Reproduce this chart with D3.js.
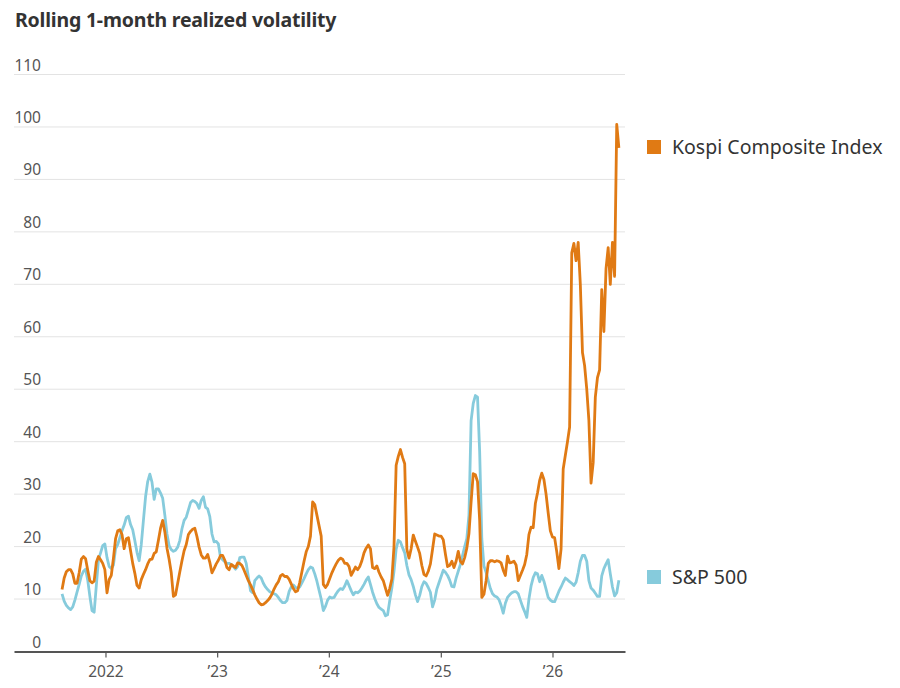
<!DOCTYPE html>
<html>
<head>
<meta charset="utf-8">
<script src="https://cdn.jsdelivr.net/npm/d3@7"></script>
<style>
  body { margin: 0; background: #fff; }
  svg { display: block; }
</style>
</head>
<body>
<div class="main"></div>
<script>
const width = 900;
const height = 688;
const margin = ({top: 74.5, right: 275, bottom: 36.5, left: 14});

// weekly observations, first one on 2021-08-12
const startDate = '2021-08-12';

const kospi = [
  11.8, 14, 15.2, 15.6, 15.6, 14.8, 13, 13, 15, 17.6,
  18.1, 17.7, 15.5, 13.5, 13.1, 13.4, 17, 18.1, 17.5, 16.8,
  15.6, 11.2, 13.7, 14.5, 17.8, 21.5, 23, 23.2, 22.3, 19.6,
  21.5, 21.7, 19.2, 16.8, 14.9, 12.6, 12.1, 13.7, 14.7, 15.6,
  16.7, 17.5, 17.6, 18.7, 19, 21.2, 23.5, 25, 22.8, 19.7,
  17.6, 15, 10.5, 10.8, 13, 15.2, 17.3, 19.2, 20.4, 22.3,
  22.9, 23.3, 23.5, 21.9, 19.9, 18.4, 17.8, 17.8, 18.5, 17,
  15, 15.8, 16.7, 17.4, 18.3, 18.3, 17.4, 16, 15.6, 16.6,
  16.3, 16, 16.9, 16.8, 16.4, 15.5, 14.5, 13.5, 12.7, 11.8,
  10.8, 10, 9.3, 8.9, 9, 9.3, 9.7, 10.2, 10.9, 11.9,
  12.7, 13.3, 14.4, 14.7, 14.3, 14.3, 13.8, 12.9, 12, 11.4,
  11.6, 13.2, 15.2, 17.2, 19, 20, 22, 28.5, 28, 26,
  24, 22, 12.8, 12.2, 12.8, 13.9, 15, 15.9, 16.7, 17.4,
  17.8, 17.6, 16.8, 16.8, 16.2, 14.5, 15.3, 16.1, 15.6, 16.2,
  17.3, 18.8, 19.7, 20.3, 19.6, 16, 15.8, 16.3, 15.1, 14.2,
  13.5, 12.1, 10.7, 12, 13.8, 20, 35.5, 37.2, 38.5, 37,
  35.8, 19.5, 17.8, 19.6, 22.2, 21, 19.9, 18.7, 16.4, 14.7,
  14.4, 15.3, 16.7, 19.5, 22.4, 22.2, 22, 22, 21.3, 18.6,
  16.2, 16.4, 17.2, 16, 17.2, 19.1, 17.2, 16.7, 17.9, 19.7,
  22.5, 28.5, 33.9, 33.7, 32.4, 25, 10.3, 10.9, 13.5, 16.8,
  17.3, 17.3, 17.1, 17.3, 17.2, 16.9, 15.5, 14.5, 18.2, 16.9,
  17, 17.2, 16.5, 13.5, 14.5, 15.5, 16.6, 18.5, 22.3, 23.7,
  23.6, 28.2, 30.2, 32.6, 34, 32.8, 30, 26.4, 23, 21.8,
  21.7, 19, 15.8, 19.5, 34.8, 37.4, 40, 42.8, 76, 77.8,
  74.5, 78, 70, 57, 54.5, 50, 44, 32.1, 36, 48.5,
  52.2, 53.7, 69, 61, 73, 77, 70, 78, 71.5, 100.5,
  96
];

const sp500 = [
  11, 9.6, 8.8, 8.3, 8, 8.5, 9.8, 11.3, 12.8, 14.4,
  15.3, 15.7, 13.6, 10.5, 7.8, 7.5, 12.5, 17.5, 18.8, 20.2,
  20.5, 17.9, 16.2, 15.8, 16.5, 19.6, 20.4, 21.7, 23, 24.1,
  25.5, 25.8, 24.2, 23.2, 21.1, 18.9, 17.3, 20.4, 25, 29.5,
  32.4, 33.8, 32.3, 29, 31, 31, 30.2, 29.2, 26, 22.4,
  20.2, 19.4, 19.1, 19.3, 19.9, 21.2, 23.4, 25, 25.6, 27,
  28.4, 28.8, 28.6, 28.2, 27.3, 28.8, 29.5, 27.5, 27.2, 25.7,
  22.4, 20.9, 21, 20.5, 17.9, 17.5, 17.1, 16.8, 16.8, 16.6,
  16.2, 15.7, 16.2, 17.9, 18, 18, 16.8, 14.2, 11.6, 11.2,
  13.5, 14, 14.4, 14, 13, 12.3, 11.8, 11.4, 11.2, 11,
  10.8, 10.3, 9.7, 9.3, 9.3, 9.7, 11.4, 12.3, 12.7, 12.2,
  12.1, 12.3, 13.1, 13.9, 14.8, 15.6, 16.1, 15.9, 14.8, 13.4,
  11.7, 10, 7.8, 8.6, 9.8, 10.4, 10.2, 10.3, 11, 11.6,
  12, 11.8, 12.5, 13.5, 12.6, 11.6, 10.8, 11.3, 11.2, 11.5,
  12.1, 12.8, 13.6, 14.2, 12.8, 11.3, 10.1, 9.1, 8.4, 8.1,
  7.8, 6.8, 7, 9.7, 12.1, 15.3, 19.5, 21.2, 20.9, 19.8,
  18.8, 16.4, 14.6, 13.7, 12.4, 10.8, 9.5, 10.7, 12.4, 13.3,
  13, 12.2, 11.3, 8.5, 9.8, 11.9, 13.1, 14.3, 15.5, 15.1,
  14.5, 13.6, 12.4, 12.3, 14, 15.3, 16.6, 18.3, 20, 21.5,
  26, 44, 47.3, 48.8, 48.5, 38, 21.5, 16.3, 15.1, 13.5,
  12, 11, 10.6, 10.4, 9.9, 8.8, 7.3, 9.2, 10.3, 10.8,
  11.2, 11.4, 11.4, 11, 9.8, 8.6, 7.6, 6.5, 10, 12.5,
  14.1, 15, 14.8, 13.3, 14.5, 13.4, 11.9, 10.3, 9.8, 9.5,
  9.5, 10.5, 11.5, 12.3, 13.2, 14, 13.7, 13.3, 13, 12.6,
  13.2, 15, 17.2, 18.3, 18.3, 17.2, 13.5, 12.1, 11.7, 11.1,
  10.5, 10.5, 14.4, 15.8, 16.7, 17.5, 14.8, 12.3, 10.6, 11.2,
  13.6
];

const yTicks = [0, 10, 20, 30, 40, 50, 60, 70, 80, 90, 100, 110];
const xTicks = ['2022-01-01', '2023-01-01', '2024-01-01', '2025-01-01', '2026-01-01'];
const xTickLabels = ['2022', '\u201923', '\u201924', '\u201925', '\u201926'];

const series = [
  {name: 'Kospi Composite Index', values: kospi, color: '#e07a14', legendY: 147},
  {name: 'S&P 500', values: sp500, color: '#86cbdc', legendY: 577}
];

const parse = d3.timeParse('%Y-%m-%d');
const t0 = parse(startDate);
const dates = kospi.map((d, i) => d3.timeDay.offset(t0, i * 7));

const svg = d3.select('.main')
  .append('svg')
  .attr('width', width)
  .attr('height', height)
  .attr('style', 'font-family: "Noto Sans", sans-serif');

const x = d3.scaleTime()
  .domain([parse('2021-03-08'), parse('2026-08-26')])
  .range([margin.left, width - margin.right]);

const y = d3.scaleLinear()
  .domain([0, 110])
  .range([height - margin.bottom, margin.top]);

// titre
svg.append('text')
  .attr('x', 15)
  .attr('y', 27)
  .attr('fill', '#333')
  .attr('font-size', 19.5)
  .attr('font-weight', 700)
  .attr('letter-spacing', -0.2)
  .text('Rolling 1-month realized volatility');

// grille + labels y
const yAxis = svg.append('g');
yAxis.selectAll('line')
  .data(yTicks.filter(d => d > 0))
  .enter()
  .append('line')
  .attr('x1', margin.left)
  .attr('x2', width - margin.right)
  .attr('y1', d => y(d))
  .attr('y2', d => y(d))
  .attr('stroke', '#e3e3e3')
  .attr('stroke-width', 1);

yAxis.selectAll('text')
  .data(yTicks)
  .enter()
  .append('text')
  .attr('x', 41)
  .attr('y', d => y(d) - 4)
  .attr('text-anchor', 'end')
  .attr('fill', '#555')
  .attr('font-size', 15.5)
  .text(d => d);

// lignes
const line = d3.line()
  .x((d, i) => x(dates[i]))
  .y(d => y(d));

svg.append('g')
  .selectAll('path')
  .data(series.slice().reverse())
  .enter()
  .append('path')
  .attr('fill', 'none')
  .attr('stroke', d => d.color)
  .attr('stroke-width', 2.8)
  .attr('stroke-linejoin', 'round')
  .attr('d', d => line(d.values));

// axe x
const xAxis = svg.append('g')
  .attr('transform', `translate(0, ${y(0)})`)
  .call(d3.axisBottom(x)
    .tickValues(xTicks.map(parse))
    .tickSize(6)
    .tickSizeOuter(0)
    .tickFormat((d, i) => xTickLabels[i]));

xAxis.select('.domain')
  .attr('stroke', '#555')
  .attr('stroke-width', 2);
xAxis.selectAll('.tick line')
  .attr('stroke', '#555')
  .attr('stroke-width', 1.2);
xAxis.selectAll('.tick text')
  .attr('font-family', '"Noto Sans", sans-serif')
  .attr('font-size', 15.5)
  .attr('fill', '#555')
  .attr('dy', '1.05em');

// légende
const legend = svg.append('g')
  .selectAll('g')
  .data(series)
  .enter()
  .append('g')
  .attr('transform', d => `translate(647, ${d.legendY})`);

legend.append('rect')
  .attr('x', 0)
  .attr('y', -7)
  .attr('width', 14)
  .attr('height', 14)
  .attr('fill', d => d.color);

legend.append('text')
  .attr('x', 25)
  .attr('dy', '0.35em')
  .attr('fill', '#333')
  .attr('font-size', 19.5)
  .text(d => d.name);
</script>
</body>
</html>
